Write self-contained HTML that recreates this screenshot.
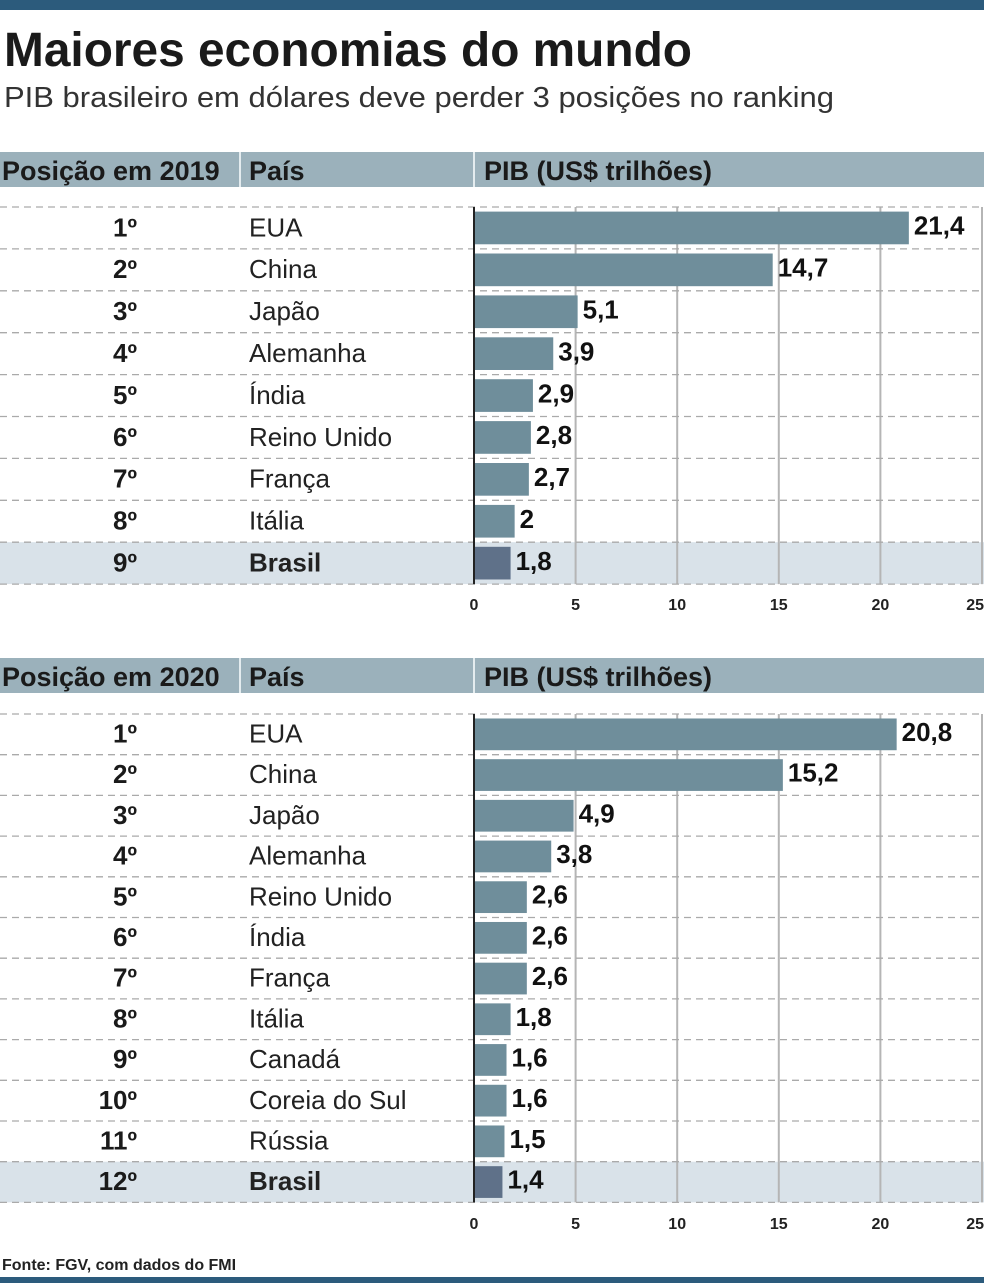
<!DOCTYPE html>
<html><head><meta charset="utf-8">
<style>
body{margin:0;width:984px;height:1283px;background:#fff;overflow:hidden;font-family:"Liberation Sans Narrow","Liberation Sans",sans-serif;}
svg{display:block}
</style></head><body>
<svg id="s" width="984" height="1283">
<rect x="0" y="0" width="984" height="10" fill="#2c5b7c"/>
<text x="4" y="66" font-size="48" font-weight="bold" fill="#1a1a1a" textLength="688" lengthAdjust="spacingAndGlyphs">Maiores economias do mundo</text>
<text x="4" y="107" font-size="29" fill="#333" textLength="830" lengthAdjust="spacingAndGlyphs">PIB brasileiro em dólares deve perder 3 posições no ranking</text>
<text x="2" y="1270" font-size="16" font-weight="bold" fill="#222">Fonte: FGV, com dados do FMI</text>
<rect x="0" y="1277" width="984" height="6" fill="#2c5b7c"/>
</svg>
<script>
const ticks=[0,5,10,15,20,25];
const countries2019=["EUA","China","Japão","Alemanha","Índia","Reino Unido","França","Itália","Brasil"];
const values2019=[21.4,14.7,5.1,3.9,2.9,2.8,2.7,2,1.8];
const labels2019=["21,4","14,7","5,1","3,9","2,9","2,8","2,7","2","1,8"];
const countries2020=["EUA","China","Japão","Alemanha","Reino Unido","Índia","França","Itália","Canadá","Coreia do Sul","Rússia","Brasil"];
const values2020=[20.8,15.2,4.9,3.8,2.6,2.6,2.6,1.8,1.6,1.6,1.5,1.4];
const labels2020=["20,8","15,2","4,9","3,8","2,6","2,6","2,6","1,8","1,6","1,6","1,5","1,4"];
const NS="http://www.w3.org/2000/svg";
const svg=document.getElementById('s');
function mk(t,a,txt){const e=document.createElementNS(NS,t);for(const k in a)e.setAttribute(k,a[k]);if(txt!==undefined)e.textContent=txt;svg.appendChild(e);return e;}
const X0=474,X1=982;
const xs=v=>X0+(X1-X0)*v/25;
function chart(year,hy,top,rowH,countries,values,labels,tickY){
  let e;
  e=mk('rect',{x:0,y:hy,width:984,height:35,fill:'#9bb1bb'});
  
  [[239,hy],[473,hy]].forEach(p=>{e=mk('rect',{x:p[0],y:p[1],width:2,height:35,fill:'#e4ecef'});});
  e=mk('text',{x:2,y:hy+28,'font-size':27,'font-weight':'bold',fill:'#1a1a1a'},'Posição em '+year);
  e=mk('text',{x:249,y:hy+28,'font-size':27,'font-weight':'bold',fill:'#1a1a1a'},'País');
  e=mk('text',{x:484,y:hy+28,'font-size':27,'font-weight':'bold',fill:'#1a1a1a'},'PIB (US$ trilhões)');
  const n=countries.length,bottom=top+n*rowH;
  e=mk('rect',{x:0,y:top+(n-1)*rowH,width:984,height:rowH,fill:'#d9e2e9'});
  ticks.forEach(t=>{if(t===0)return;e=mk('line',{x1:xs(t),x2:xs(t),y1:top,y2:bottom,stroke:'#b5b5b5','stroke-width':2});});
  for(let i=0;i<=n;i++){e=mk('line',{x1:0,x2:984,y1:top+i*rowH,y2:top+i*rowH,stroke:'#aaa','stroke-width':1.3,'stroke-dasharray':'7,5'});}
  e=mk('line',{x1:X0,x2:X0,y1:top,y2:bottom,stroke:'#222','stroke-width':2});
  countries.forEach((c,i)=>{
    const y=top+i*rowH,last=i===n-1;
    e=mk('text',{x:137,y:y+rowH*0.7,'font-size':26,'font-weight':'bold','text-anchor':'end',fill:'#1a1a1a'},(i+1)+'º');
    e=mk('text',{x:249,y:y+rowH*0.7,'font-size':26,'font-weight':last?'bold':'normal',fill:'#222'},c);
    const bh=rowH*0.78;
    e=mk('rect',{x:X0+1,y:y+(rowH-bh)/2,width:xs(values[i])-X0-1,height:bh,fill:last?'#5f7189':'#6f8e9b'});
    e=mk('text',{x:xs(values[i])+5,y:y+rowH*0.66,'font-size':26,'font-weight':'bold',fill:'#111'},labels[i]);
  });
  ticks.forEach(t=>{e=mk('text',{x:xs(t),y:tickY,'font-size':16,'font-weight':'bold','text-anchor':t===25?'end':'middle',fill:'#222','font-family':'Liberation Sans, sans-serif'},String(t));if(t===25)e.setAttribute('x',984);});
}
chart(2019,152,207,41.9,countries2019,values2019,labels2019,610);
chart(2020,658,714,40.7,countries2020,values2020,labels2020,1229);
</script>
</body></html>
